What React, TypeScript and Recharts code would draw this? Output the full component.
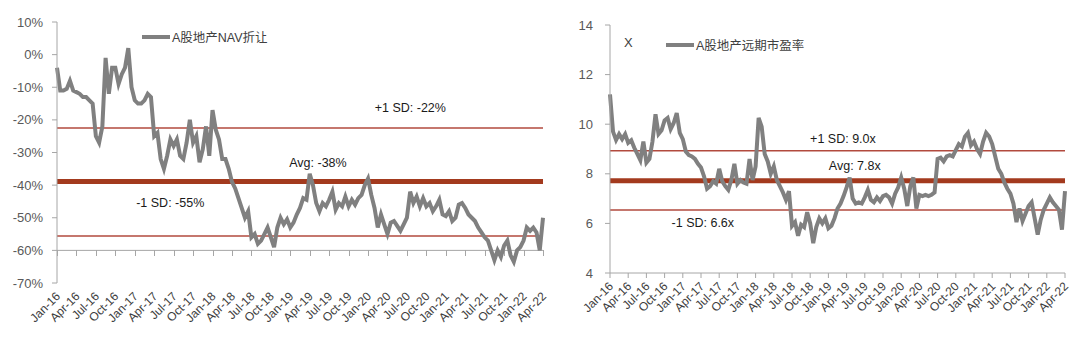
import React from "react"
import { LineChart, Line, XAxis, YAxis, ReferenceLine } from "recharts"

const quarterLabels = [
  "Jan-16", "Apr-16", "Jul-16", "Oct-16", "Jan-17", "Apr-17", "Jul-17", "Oct-17",
  "Jan-18", "Apr-18", "Jul-18", "Oct-18", "Jan-19", "Apr-19", "Jul-19", "Oct-19",
  "Jan-20", "Apr-20", "Jul-20", "Oct-20", "Jan-21", "Apr-21", "Jul-21", "Oct-21",
  "Jan-22", "Apr-22",
]
const quarterTicks = quarterLabels.map((_, i) => i * 3)

// semi-monthly readings, Jan-16 .. Apr-22 (%)
const navDiscount = [
  -4, -11, -11, -10.5, -8, -11, -11.5, -12, -13, -13,
  -14, -15, -25, -27, -22, -1, -12, -4, -4, -9,
  -6, -4, 2, -10, -14, -15, -15, -14, -12, -13,
  -25, -24, -32, -35, -31, -26, -28, -26, -31, -32,
  -27, -20, -27, -25, -33, -29, -22, -31, -17, -23,
  -26, -32, -32, -35, -39, -41, -44, -47, -50, -48,
  -56, -55, -58, -57, -55, -53, -56, -59, -53, -50,
  -52, -50.5, -53, -51.5, -49, -47, -44, -44.5, -36.5, -40,
  -45.5, -48, -45.5, -46.5, -44.5, -42, -47.5, -45.5, -46.5, -43.5,
  -46.5, -44.5, -46, -44, -43, -40, -38, -43, -47, -53,
  -49, -52, -55, -51.5, -51, -52.5, -54, -52, -50, -42,
  -45.5, -43.5, -46.5, -44, -46.5, -45.5, -48, -46.5, -44.5, -49,
  -49.5, -48, -51, -50, -46, -45.5, -47, -49, -50, -51,
  -53, -54.5, -56, -57, -60, -63, -60, -62, -58.5, -57,
  -61.5, -63.5, -60, -59, -57, -53, -54, -53, -54.5, -60, -50,
]

// semi-monthly readings, Jan-16 .. Apr-22 (x)
const forwardPE = [
  11.2, 9.7, 9.36, 9.6, 9.4, 9.6, 9.25, 9.35, 9.05, 8.8,
  8.55, 9.3, 8.45, 8.6, 9.3, 10.4, 9.6, 9.75, 10.15, 10.25,
  9.8, 10.05, 10.45, 9.65, 9.4, 8.9, 8.75, 8.7, 8.6, 8.4,
  8.25, 7.9, 7.4, 7.5, 7.7, 7.6, 8.2, 7.7, 7.5, 7.35,
  7.75, 8.4, 7.6, 7.75, 7.65, 7.6, 8.6, 7.75, 8.3, 10.25,
  9.9, 8.8, 8.5, 8.0, 8.3, 7.75, 7.5, 7.25, 6.95, 7.3,
  5.9, 6.05, 5.5, 5.95, 5.85, 6.45, 6.0, 5.2, 5.85, 6.2,
  6.0, 6.2, 5.8, 5.9, 6.2, 6.6, 6.8, 7.1, 7.45, 7.85,
  7.0, 6.8, 6.85, 6.8, 7.05, 7.35, 6.95, 6.85, 7.05, 6.9,
  7.1, 7.15, 7.05, 6.8, 7.2, 7.45, 7.85, 7.4, 6.7, 7.5,
  7.85, 6.6, 7.15, 7.1, 7.15, 7.1, 7.15, 7.25, 8.6, 8.65,
  8.5, 8.7, 8.75, 8.7, 8.95, 9.2, 9.1, 9.5, 9.65, 9.15,
  9.3, 9.0, 8.8, 9.3, 9.65, 9.5, 9.2, 8.7, 8.2, 8.0,
  7.65, 7.4, 7.2, 6.8, 6.05, 6.6, 6.1, 6.4, 6.7, 6.85,
  6.2, 5.55, 6.15, 6.55, 6.8, 7.05, 6.85, 6.7, 6.55, 5.75, 7.3,
]

const navBands = [-22.5, -38.9, -55.6]
const navBandLabels = ["+1 SD: -22%", "Avg: -38%", "-1 SD: -55%"]
const peBands = [8.93, 7.72, 6.54]
const peBandLabels = ["+1 SD: 9.0x", "Avg: 7.8x", "-1 SD: 6.6x"]

const navTicks = [-70, -60, -50, -40, -30, -20, -10, 0, 10]
const navAxisCross = -60
const peTicks = [4, 6, 8, 10, 12, 14]

const navData = navDiscount.map((v, i) => ({ m: i / 2, v }))
const peData = forwardPE.map((v, i) => ({ m: i / 2, v }))

const FONT = '"Liberation Sans", Arial, "Noto Sans CJK SC", sans-serif'
const AXIS = "#a6a6a6"
const SERIES = "#808080"
const AVG = "#a33a1e"
const SD = "#b24a3e"

// label placement: fraction across plot, offset from its line
const navLabelPos = [
  [0.727, -20],
  [0.537, -19],
  [0.233, -33],
]
const peLabelPos = [
  [0.512, -12],
  [0.538, -15],
  [0.204, 13],
]

function bandLabel(text: string, frac: number, dy: number) {
  return (props: any) => {
    const vb = props.viewBox || {}
    return (
      <text
        x={vb.x + vb.width * frac}
        y={vb.y + dy}
        textAnchor="middle"
        dominantBaseline="central"
        fontSize={12.5}
        fill="#1a1a1a"
      >
        {text}
      </text>
    )
  }
}

// tick marks along the crossing axis line, one per quarter label
function crossAxisMarks(props: any) {
  const vb = props.viewBox || {}
  const n = quarterLabels.length - 1
  return (
    <g shapeRendering="crispEdges">
      {quarterLabels.map((_, i) => {
        const x = Math.round(vb.x + (vb.width * i) / n) + 0.5
        return <path key={i} d={`M${x},${vb.y}L${x},${vb.y + 6}`} stroke={AXIS} strokeWidth={1} fill="none" />
      })}
    </g>
  )
}

function QuarterTick(props: any) {
  const { x, y, payload, dy } = props
  const label = quarterLabels[Math.round(payload.value / 3)]
  const tx = x + 4
  const ty = y + dy
  return (
    <text x={tx} y={ty} textAnchor="end" fontSize={12} fill="#404040" transform={`rotate(-45 ${tx} ${ty})`}>
      {label}
    </text>
  )
}

function LegendLine({ left, top, text }: { left: number; top: number; text: string }) {
  return (
    <div style={{ position: "absolute", left, top, display: "flex", alignItems: "center", fontSize: 12.5, color: "#404040", whiteSpace: "nowrap" }}>
      <span style={{ display: "inline-block", width: 28, height: 4, background: SERIES, marginRight: 2 }} />
      <span>{text}</span>
    </div>
  )
}

export default function App() {
  return (
    <div style={{ position: "absolute", left: 0, top: 0, width: 1080, height: 344, background: "#fff", fontFamily: FONT }}>
      <div style={{ position: "absolute", left: 0, top: 0 }}>
        <LineChart width={560} height={344} data={navData} margin={{ top: 22, right: 17, left: 0, bottom: 0 }}>
          <XAxis
            dataKey="m"
            type="number"
            domain={[0, 75]}
            ticks={quarterTicks}
            interval={0}
            height={61}
            axisLine={false}
            tickLine={false}
            tickSize={0}
            tickMargin={0}
            tick={(p: any) => <QuarterTick {...p} dy={14} />}
          />
          <YAxis
            type="number"
            domain={[-70, 10]}
            ticks={navTicks}
            width={57}
            interval={0}
            tickFormatter={(v: number) => `${v}%`}
            axisLine={{ stroke: AXIS }}
            tickLine={{ stroke: AXIS }}
            tickSize={5}
            tickMargin={9}
            tick={{ fontSize: 13, fill: "#595959" }}
          />
          <ReferenceLine y={navAxisCross} stroke={AXIS} strokeWidth={1} label={crossAxisMarks} />
          {navBands.map((b, i) => (
            <ReferenceLine
              key={i}
              y={b}
              stroke={i === 1 ? AVG : SD}
              strokeWidth={i === 1 ? 5 : 1.5}
              label={bandLabel(navBandLabels[i], navLabelPos[i][0], navLabelPos[i][1])}
            />
          ))}
          <Line dataKey="v" stroke={SERIES} strokeWidth={4} dot={false} type="linear" isAnimationActive={false} />
        </LineChart>
        <LegendLine left={142} top={27} text="A股地产NAV折让" />
      </div>

      <div style={{ position: "absolute", left: 540, top: 0 }}>
        <LineChart width={540} height={344} data={peData} margin={{ top: 25, right: 15, left: 0, bottom: 0 }}>
          <XAxis
            dataKey="m"
            type="number"
            domain={[0, 75]}
            ticks={quarterTicks}
            interval={0}
            height={71}
            axisLine={{ stroke: AXIS }}
            tickLine={{ stroke: AXIS }}
            tickSize={5}
            tickMargin={0}
            tick={(p: any) => <QuarterTick {...p} dy={9} />}
          />
          <YAxis
            type="number"
            domain={[4, 14]}
            ticks={peTicks}
            width={70}
            interval={0}
            axisLine={{ stroke: AXIS }}
            tickLine={{ stroke: AXIS }}
            tickSize={5}
            tickMargin={12}
            tick={{ fontSize: 13, fill: "#595959" }}
          />
          {peBands.map((b, i) => (
            <ReferenceLine
              key={i}
              y={b}
              stroke={i === 1 ? AVG : SD}
              strokeWidth={i === 1 ? 5 : 1.5}
              label={bandLabel(peBandLabels[i], peLabelPos[i][0], peLabelPos[i][1])}
            />
          ))}
          <Line dataKey="v" stroke={SERIES} strokeWidth={4} dot={false} type="linear" isAnimationActive={false} />
        </LineChart>
        <div style={{ position: "absolute", left: 84, top: 35, fontSize: 13, color: "#404040" }}>X</div>
        <LegendLine left={126} top={35} text="A股地产远期市盈率" />
      </div>
    </div>
  )
}
